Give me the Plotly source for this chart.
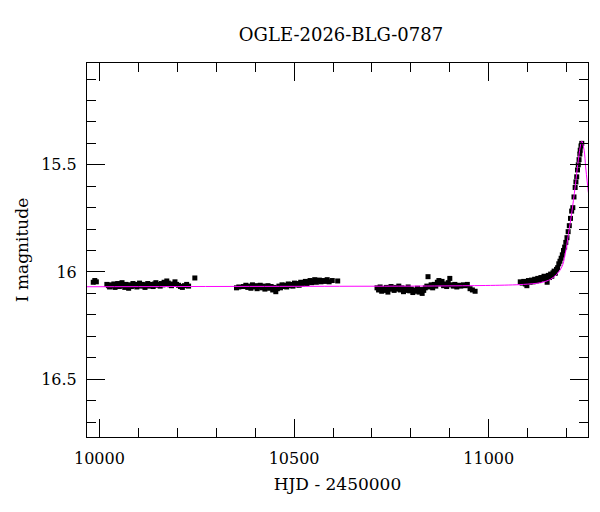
import plotly.graph_objects as go

# ---------------- data ----------------
title_text = "OGLE-2026-BLG-0787"
x_label = "HJD - 2450000"
y_label = "I magnitude"

season1_t = [9984, 9988, 9992, 10019, 10023, 10026, 10030, 10033, 10037, 10040,
             10044, 10047, 10051, 10054, 10058, 10061, 10065, 10068, 10072, 10075,
             10079, 10082, 10086, 10089, 10093, 10096, 10100, 10103, 10107, 10110,
             10114, 10117, 10121, 10124, 10128, 10131, 10135, 10138, 10142, 10145,
             10149, 10152, 10156, 10159, 10163, 10166, 10170, 10173, 10177, 10181,
             10185, 10189, 10194, 10198, 10203, 10208, 10213, 10218, 10224, 10229,
             10245]
season1_mag = [16.048, 16.040, 16.046, 16.058, 16.064, 16.070, 16.060, 16.066, 16.056, 16.072,
               16.062, 16.054, 16.068, 16.060, 16.050, 16.064, 16.072, 16.058, 16.066, 16.076,
               16.060, 16.068, 16.054, 16.064, 16.058, 16.070, 16.062, 16.052, 16.066, 16.058,
               16.064, 16.072, 16.060, 16.054, 16.066, 16.058, 16.062, 16.068, 16.056, 16.050,
               16.062, 16.058, 16.066, 16.054, 16.060, 16.048, 16.056, 16.042, 16.052, 16.060,
               16.064, 16.056, 16.046, 16.058, 16.062, 16.068, 16.072, 16.064, 16.058, 16.066,
               16.028]

season2_t = [10352, 10358, 10370, 10376, 10381, 10385, 10389, 10393, 10397, 10401,
             10405, 10409, 10413, 10417, 10421, 10425, 10429, 10433, 10437, 10441,
             10445, 10449, 10453, 10457, 10461, 10465, 10469, 10473, 10477, 10481,
             10485, 10489, 10493, 10497, 10501, 10505, 10509, 10513, 10517, 10521,
             10525, 10529, 10533, 10537, 10541, 10545, 10549, 10553, 10557, 10561,
             10565, 10569, 10574, 10579, 10585, 10590, 10598, 10612]
season2_mag = [16.074, 16.070, 16.068, 16.062, 16.072, 16.066, 16.076, 16.060, 16.070, 16.064,
               16.078, 16.068, 16.062, 16.074, 16.066, 16.080, 16.070, 16.064, 16.076, 16.068,
               16.084, 16.072, 16.092, 16.078, 16.066, 16.074, 16.060, 16.068, 16.062, 16.070,
               16.056, 16.064, 16.058, 16.066, 16.052, 16.060, 16.054, 16.062, 16.048, 16.056,
               16.050, 16.044, 16.054, 16.046, 16.040, 16.050, 16.044, 16.036, 16.048, 16.042,
               16.038, 16.046, 16.040, 16.044, 16.036, 16.046, 16.040, 16.042]

season3_t = [10713, 10717, 10721, 10725, 10729, 10733, 10737, 10741, 10745, 10749,
             10753, 10757, 10761, 10765, 10769, 10773, 10777, 10781, 10785, 10789,
             10793, 10797, 10801, 10805, 10809, 10813, 10817, 10821, 10825, 10829,
             10833, 10837, 10841, 10844, 10848, 10852, 10856, 10860, 10864, 10868,
             10872, 10876, 10880, 10884, 10888, 10892, 10896, 10900, 10904, 10909,
             10913, 10918, 10923, 10928, 10935, 10940, 10945, 10952, 10958, 10965]
season3_mag = [16.074, 16.084, 16.070, 16.090, 16.078, 16.086, 16.072, 16.094, 16.080, 16.068,
               16.078, 16.086, 16.072, 16.080, 16.066, 16.084, 16.074, 16.092, 16.078, 16.086,
               16.070, 16.088, 16.080, 16.096, 16.084, 16.090, 16.076, 16.094, 16.082, 16.100,
               16.086, 16.074, 16.066, 16.022, 16.070, 16.060, 16.074, 16.058, 16.066, 16.048,
               16.040, 16.056, 16.044, 16.064, 16.056, 16.068, 16.050, 16.030, 16.060, 16.066,
               16.058, 16.070, 16.062, 16.066, 16.060, 16.064, 16.058, 16.078, 16.084, 16.090]

season4_t = [11081, 11086, 11090, 11094, 11098, 11102, 11106, 11110, 11114, 11118,
             11122, 11126, 11130, 11134, 11138, 11142, 11146, 11150, 11153, 11156,
             11159, 11162, 11165, 11168, 11171, 11174, 11177, 11180, 11183, 11186,
             11189, 11192, 11195, 11198, 11201, 11204, 11207, 11210, 11213, 11216,
             11219, 11222, 11224, 11226, 11228, 11230, 11232, 11234, 11235, 11237,
             11239]
season4_mag = [16.046, 16.052, 16.044, 16.056, 16.064, 16.040, 16.048, 16.038, 16.046, 16.034,
               16.042, 16.030, 16.040, 16.026, 16.034, 16.020, 16.030, 16.048, 16.016, 16.026,
               16.010, 16.020, 16.004, 15.996, 16.006, 15.988, 15.980, 15.962, 15.950, 15.936,
               15.920, 15.900, 15.884, 15.862, 15.840, 15.812, 15.784, 15.750, 15.716, 15.700,
               15.650, 15.606, 15.580, 15.556, 15.524, 15.500, 15.476, 15.450, 15.432, 15.412,
               15.400]

mag_error = 0.006

model_t = [9968, 10200, 10500, 10800, 10950, 11050, 11089, 11133, 11159, 11175,
           11188, 11196, 11205, 11213, 11222, 11229, 11235, 11239, 11245, 11249,
           11253, 11256]
model_mag = [16.069, 16.068, 16.067, 16.066, 16.064, 16.061, 16.058, 16.050, 16.034, 16.010,
             15.976, 15.921, 15.820, 15.727, 15.603, 15.494, 15.417, 15.389, 15.432, 15.510,
             15.580, 15.630]

x_range = [9968, 11255]
y_range = [16.77, 15.025]

# ---------------- figure ----------------
obs_t = season1_t + season2_t + season3_t + season4_t
obs_mag = season1_mag + season2_mag + season3_mag + season4_mag

FONT = "DejaVu Serif"

fig = go.Figure()
fig.add_trace(go.Scatter(
    x=obs_t, y=obs_mag, mode="markers",
    marker=dict(symbol="square", size=5, color="black", line=dict(width=0)),
    error_y=dict(type="constant", value=mag_error, color="black", thickness=1, width=1),
    showlegend=False, hoverinfo="x+y"))
fig.add_trace(go.Scatter(
    x=model_t, y=model_mag, mode="lines",
    line=dict(color="#ff00ff", width=1, shape="spline"),
    showlegend=False, hoverinfo="skip"))

axis_common = dict(
    ticks="inside", ticklen=18, tickwidth=1, tickcolor="black",
    showline=True, linecolor="black", linewidth=1, mirror="allticks",
    showgrid=False, zeroline=False, automargin=False,
    tickfont=dict(family=FONT, size=16, color="black"),
)

# the page body adds an 8px offset, so the figure is 592x504
fig.update_layout(
    width=592, height=504,
    margin=dict(l=79, r=12, t=55, b=75, autoexpand=False),
    paper_bgcolor="white", plot_bgcolor="white",
    title=dict(text=title_text, x=0.507, xref="paper", xanchor="center",
               y=1 - 27 / 504, yref="container", yanchor="middle",
               font=dict(family=FONT, size=18, color="black")),
    xaxis=dict(range=x_range, tick0=10000, dtick=500, tickformat="d",
               minor=dict(tick0=10000, dtick=100, ticks="inside", ticklen=9,
                          tickwidth=1, tickcolor="black", showgrid=False),
               ticklabelstandoff=7,
               title=dict(text=x_label, standoff=10,
                          font=dict(family=FONT, size=17, color="black")),
               **axis_common),
    yaxis=dict(range=y_range, tick0=15.5, dtick=0.5,
               minor=dict(tick0=15.5, dtick=0.1, ticks="inside", ticklen=9,
                          tickwidth=1, tickcolor="black", showgrid=False),
               ticklabelstandoff=6,
               title=dict(text=y_label, standoff=8,
                          font=dict(family=FONT, size=17, color="black")),
               **axis_common),
)

fig.write_html("out.html")
